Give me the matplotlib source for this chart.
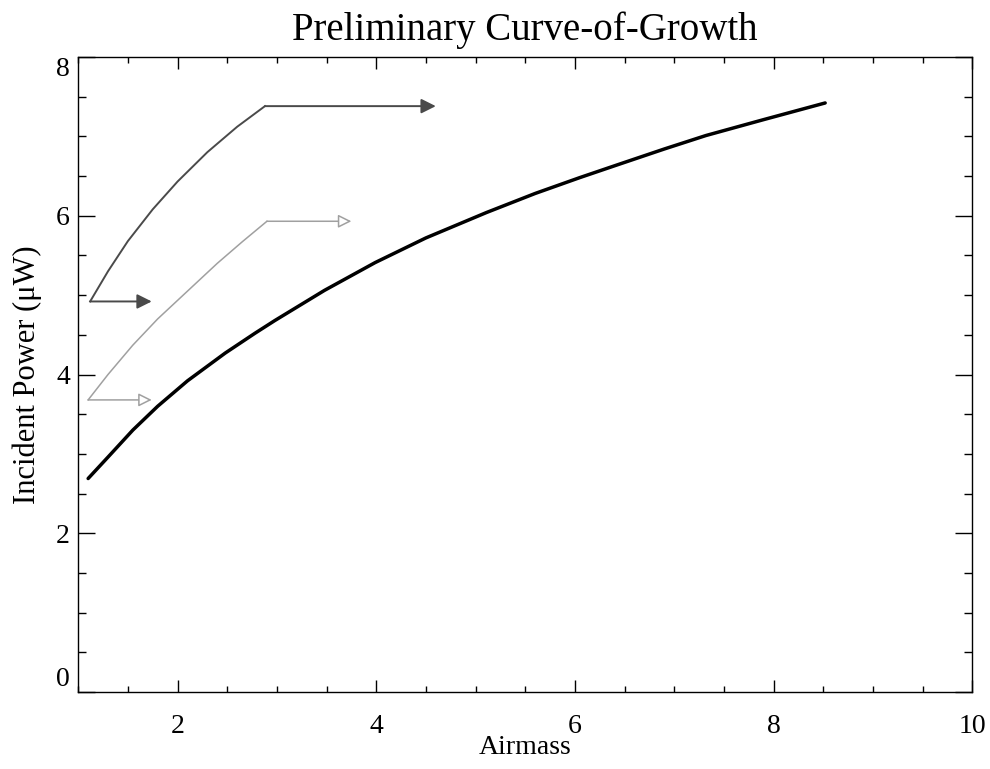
import matplotlib.pyplot as plt
from matplotlib.ticker import MultipleLocator

plt.rcParams['font.family'] = ['Liberation Serif', 'DejaVu Serif']

# black curve: incident power vs airmass
airmass = [1.10, 1.30, 1.55, 1.80, 2.10, 2.48, 2.78, 2.98, 3.48, 3.99,
           4.50, 5.11, 5.60, 6.05, 6.45, 6.90, 7.32, 7.90, 8.52]
power = [2.69, 2.96, 3.30, 3.60, 3.92, 4.27, 4.52, 4.68, 5.06, 5.41,
         5.72, 6.04, 6.28, 6.48, 6.65, 6.84, 7.01, 7.21, 7.42]

# dark grey curve (upper)
upper_x = [1.12, 1.30, 1.50, 1.75, 2.00, 2.30, 2.60, 2.88]
upper_y = [4.92, 5.30, 5.68, 6.08, 6.43, 6.80, 7.12, 7.38]
upper_arrow_end = 4.60
upper_start_arrow_end = 1.74

# light grey curve (middle)
mid_x = [1.10, 1.30, 1.55, 1.80, 2.10, 2.40, 2.65, 2.90]
mid_y = [3.68, 4.00, 4.37, 4.70, 5.05, 5.40, 5.67, 5.93]
mid_arrow_end = 3.75
mid_start_arrow_end = 1.74

y_ticks = [0, 2, 4, 6, 8]

dark = '#4a4a4a'
light = '#a0a0a0'

fig = plt.figure(figsize=(9.9, 7.69), dpi=100)
ax = fig.add_axes([0.079, 0.100, 0.903, 0.826])

ax.plot(airmass, power, color='black', lw=2.5, solid_capstyle='round')

ax.plot(upper_x, upper_y, color=dark, lw=1.4)
for x0, x1, y in [(upper_x[-1], upper_arrow_end, upper_y[-1]),
                  (upper_x[0], upper_start_arrow_end, upper_y[0])]:
    ax.annotate('', xy=(x1, y), xytext=(x0, y),
                arrowprops=dict(arrowstyle='-|>', color=dark, lw=1.4, mutation_scale=22,
                                shrinkA=0, shrinkB=0))

ax.plot(mid_x, mid_y, color=light, lw=1.1)
for x0, x1, y in [(mid_x[-1], mid_arrow_end, mid_y[-1]),
                  (mid_x[0], mid_start_arrow_end, mid_y[0])]:
    ax.annotate('', xy=(x1, y), xytext=(x0, y),
                arrowprops=dict(arrowstyle='-|>', color=light, lw=1.1, mutation_scale=20,
                                shrinkA=0, shrinkB=0, fc='white'))

ax.set_xlim(1, 10)
ax.set_ylim(0, 8)
ax.xaxis.set_major_locator(MultipleLocator(2))
ax.xaxis.set_minor_locator(MultipleLocator(0.5))
ax.set_yticks(y_ticks)
ax.yaxis.set_minor_locator(MultipleLocator(0.5))
ax.tick_params(which='both', direction='in', top=True, right=True, width=1)
ax.tick_params(axis='x', which='major', length=8.5, pad=16, labelsize=20)
ax.tick_params(axis='x', which='minor', length=4)
ax.tick_params(axis='y', which='major', length=12, pad=6, labelsize=20)
ax.tick_params(axis='y', which='minor', length=6)
for s in ax.spines.values():
    s.set_linewidth(1.0)

ax.set_xlabel('Airmass', fontsize=20, labelpad=-3)
ax.set_ylabel('Incident Power (\u03bcW)', fontsize=22)
ax.yaxis.set_label_coords(-0.041, 0.5)
ax.set_title('Preliminary Curve-of-Growth', fontsize=28, pad=12)

ylabels = ax.get_yticklabels()
ylabels[0].set_va('bottom')
ylabels[-1].set_va('top')

fig.savefig('out.png', dpi=100)
